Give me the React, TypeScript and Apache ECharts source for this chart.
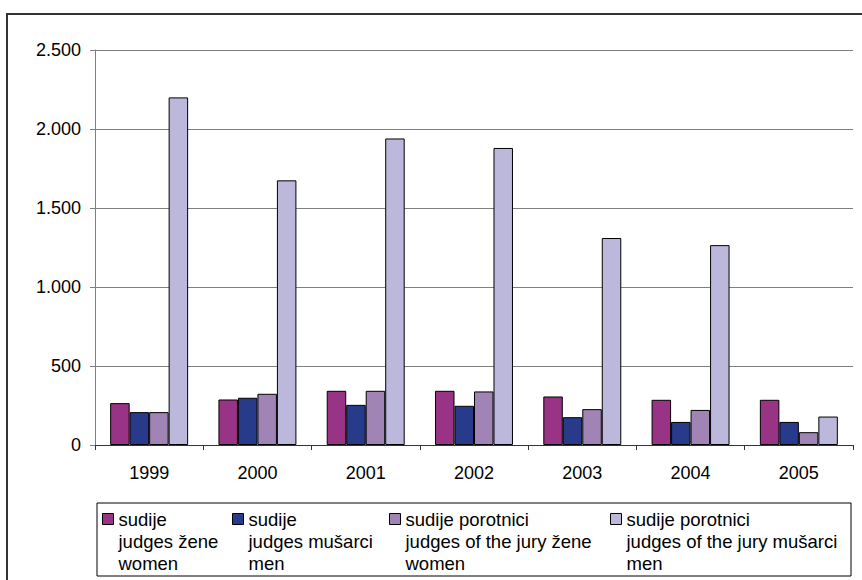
import React, { useEffect, useRef } from "react";
import * as echarts from "echarts";

const categories = ["1999", "2000", "2001", "2002", "2003", "2004", "2005"];
const judgesWomen = [265, 288, 343, 343, 307, 286, 286];
const judgesMen = [208, 299, 254, 248, 176, 146, 146];
const juryWomen = [208, 324, 343, 339, 227, 222, 81];
const juryMen = [2200, 1675, 1940, 1880, 1310, 1265, 180];
const seriesNames = [
  "sudije\njudges žene\nwomen",
  "sudije\njudges mušarci\nmen",
  "sudije porotnici\njudges of the jury žene\nwomen",
  "sudije porotnici\njudges of the jury mušarci\nmen",
];
const seriesData = [judgesWomen, judgesMen, juryWomen, juryMen];
const colors = ["#993385", "#283A8A", "#A084B6", "#BBB8DB"];
const legendLeft = [102, 232, 389, 610];

const FONT = "'Liberation Sans', Arial, sans-serif";

function fmt(v: number): string {
  const s = String(Math.round(v));
  return s.replace(/\B(?=(\d{3})+(?!\d))/g, ".");
}

export default function App() {
  const ref = useRef<HTMLDivElement>(null);
  useEffect(() => {
    if (!ref.current) return;
    document.body.style.margin = "0";
    document.body.style.overflow = "hidden";
    const chart = echarts.init(ref.current, null, { renderer: "svg" });
    chart.setOption({
      animation: false,
      backgroundColor: "#fff",
      textStyle: { fontFamily: FONT },
      grid: { left: 95, right: 9, top: 50, bottom: 135, containLabel: false },
      xAxis: {
        type: "category",
        data: categories,
        axisLine: { lineStyle: { color: "#333", width: 1 } },
        axisTick: { show: true, length: 5, lineStyle: { color: "#333" } },
        axisLabel: { fontSize: 18, color: "#000", margin: 19, fontFamily: FONT },
      },
      yAxis: {
        type: "value",
        min: 0,
        max: 2500,
        interval: 500,
        axisLine: { show: true, lineStyle: { color: "#808080", width: 1 } },
        axisTick: { show: true, length: 5, lineStyle: { color: "#808080" } },
        splitLine: { lineStyle: { color: "#808080", width: 1 } },
        axisLabel: {
          fontSize: 18,
          color: "#000",
          margin: 14,
          fontFamily: FONT,
          formatter: (v: number) => fmt(v),
        },
      },
      legend: seriesNames.map((n, i) => ({
        data: [n],
        left: legendLeft[i],
        top: 464,
        icon: "rect",
        itemWidth: 11,
        itemHeight: 11,
        itemGap: 0,
        selectedMode: false,
        padding: 0,
        formatter: (name: string) => "\n\n" + name,
        itemStyle: { borderColor: "#000", borderWidth: 1 },
        textStyle: {
          fontSize: 18.5,
          lineHeight: 22,
          color: "#000",
          fontFamily: FONT,
        },
      })),
      graphic: [
        {
          type: "polyline",
          shape: { points: [[7, 600], [7, 14], [870, 14]] },
          style: { fill: "none", stroke: "#333", lineWidth: 2 },
          silent: true,
        },
        {
          type: "rect",
          shape: { x: 97, y: 503, width: 754, height: 73 },
          style: { fill: "none", stroke: "#000", lineWidth: 1 },
          silent: true,
        },
      ],
      series: seriesNames.map((n, i) => ({
        name: n,
        type: "bar",
        data: seriesData[i],
        barGap: "0%",
        barCategoryGap: "28%",
        itemStyle: { color: colors[i], borderColor: "#000", borderWidth: 1 },
      })),
    });
    return () => chart.dispose();
  }, []);
  return (
    <div
      ref={ref}
      style={{ position: "fixed", left: 0, top: 0, width: 862, height: 580 }}
    />
  );
}
